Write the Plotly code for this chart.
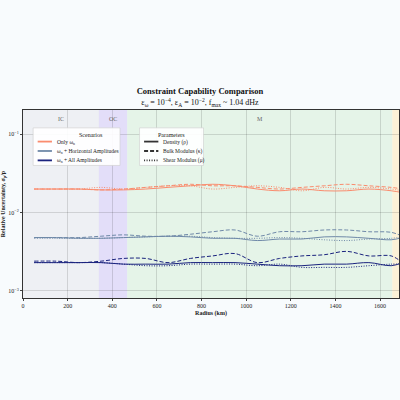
import plotly.graph_objects as go

radius = [50,150,250,350,450,550,650,750,850,950,1050,1150,1250,1350,1450,1550,1650,1700]
only_rho   = [0.020,0.020,0.020,0.0195,0.0195,0.020,0.021,0.022,0.023,0.022,0.020,0.019,0.020,0.019,0.019,0.020,0.019,0.018]
only_kappa = [0.020,0.020,0.020,0.0195,0.020,0.021,0.022,0.023,0.022,0.022,0.021,0.020,0.021,0.022,0.023,0.022,0.021,0.020]
only_mu    = [0.020,0.020,0.020,0.021,0.020,0.021,0.022,0.022,0.020,0.021,0.022,0.021,0.019,0.021,0.020,0.021,0.020,0.019]
hor_rho    = [0.0048,0.0048,0.0047,0.0047,0.0048,0.0049,0.0050,0.0049,0.0047,0.0047,0.0044,0.0046,0.0046,0.0049,0.0049,0.0047,0.0045,0.0048]
hor_kappa  = [0.0048,0.0048,0.0048,0.0050,0.0052,0.0050,0.0050,0.0053,0.0057,0.0060,0.0050,0.0057,0.0057,0.0060,0.0060,0.0057,0.0056,0.0050]
hor_mu     = [0.0047,0.0047,0.0047,0.0047,0.0048,0.0049,0.0050,0.0050,0.0048,0.0047,0.0047,0.0048,0.0047,0.0045,0.0044,0.0046,0.0047,0.0049]
all_rho    = [0.0023,0.0023,0.0023,0.0023,0.0022,0.0022,0.0022,0.0023,0.0023,0.0023,0.0022,0.0021,0.0021,0.0022,0.0022,0.0023,0.0021,0.0023]
all_kappa  = [0.0024,0.0024,0.0023,0.0024,0.0026,0.0026,0.0023,0.0026,0.0028,0.0030,0.0023,0.0026,0.0028,0.0029,0.0032,0.0028,0.0028,0.0023]
all_mu     = [0.0023,0.0023,0.0023,0.0023,0.0022,0.0021,0.0021,0.0022,0.0022,0.0022,0.0021,0.0022,0.0020,0.0020,0.0020,0.0021,0.0022,0.0022]

scenario_names = ["Only ω<sub>n</sub>", "ω<sub>n</sub> + Horizontal Amplitudes", "ω<sub>n</sub> + All Amplitudes"]
param_names = ["Density (ρ)", "Bulk Modulus (κ)", "Shear Modulus (μ)"]

regions = [("IC", 0, 340, "rgba(220,220,225,0.35)"), ("OC", 340, 467, "rgba(190,170,240,0.35)"),
           ("M", 467, 1655, "rgba(200,235,200,0.4)"), ("", 1655, 1685, "rgba(255,235,190,0.6)")]

colors = ["#fa8c6e", "#6f89a8", "#1a237e"]
dashes = ["solid", "4px,2px", "1px,1.5px"]
F = "Liberation Serif"
fig = go.Figure()
for c, series in zip(colors, [(only_rho, only_kappa, only_mu), (hor_rho, hor_kappa, hor_mu), (all_rho, all_kappa, all_mu)]):
    for d, ys in zip(dashes, series):
        fig.add_trace(go.Scatter(x=radius, y=ys, mode="lines", line=dict(color=c, width=1, dash=d, shape="spline"), showlegend=False))

for lab, x0, x1, col in regions:
    fig.add_vrect(x0=x0, x1=x1, fillcolor=col, line_width=0, layer="below")
    if lab:
        fig.add_annotation(x=(x0 + x1) / 2, y=1, yref="paper", yanchor="top", yshift=-4, text=lab, showarrow=False,
                           font=dict(size=6, color="#666", family=F))

def legend_box(x0, x1, title, names, cols, dss):
    y_top, y_bot = 0.905, 0.705
    fig.add_shape(type="rect", xref="paper", yref="paper", x0=x0, x1=x1, y0=y_bot, y1=y_top,
                  fillcolor="rgba(255,255,255,0.92)", line=dict(color="#ccc", width=0.6))
    fig.add_annotation(xref="paper", yref="paper", x=(x0 + x1) / 2, y=0.878, yshift=3, text=title, showarrow=False,
                       font=dict(size=6, family=F, color="#222"))
    for i, (n, c, d) in enumerate(zip(names, cols, dss)):
        yy = 0.832 - i * 0.05
        fig.add_shape(type="line", xref="paper", yref="paper", x0=x0 + 0.012, x1=x0 + 0.05, y0=yy, y1=yy,
                      line=dict(color=c, width=1.8, dash=d))
        fig.add_annotation(xref="paper", yref="paper", x=x0 + 0.058, y=yy, yshift=5, text=n, showarrow=False,
                           xanchor="left", font=dict(size=5.5, family=F, color="#222"))

legend_box(0.027, 0.258, "Scenarios", scenario_names, colors, ["solid"] * 3)
legend_box(0.31, 0.48, "Parameters", param_names, ["#333"] * 3, dashes)

fig.update_layout(
    width=400, height=400, margin=dict(l=23, r=1, t=110, b=102),
    paper_bgcolor="#f8fbfd", plot_bgcolor="#f8fbfd", showlegend=False,
    title=dict(text="<b>Constraint Capability Comparison</b><br><span style='font-size:8px'>ε<sub>ω</sub> = 10<sup>−4</sup>, ε<sub>A</sub> = 10<sup>−2</sup>, f<sub>max</sub> ~ 1.04 dHz</span>",
               x=0.5, xanchor="center", y=0.765, yanchor="bottom", font=dict(size=8.5, family=F, color="#111")),
    font=dict(family=F, color="#222"),
)
fig.update_xaxes(range=[0, 1685], tickvals=[0,200,400,600,800,1000,1200,1400,1600], tickfont=dict(size=6),
                 title=dict(text="<b>Radius (km)</b>", font=dict(size=6), standoff=2), showgrid=True, gridcolor="rgba(0,0,0,0.13)",
                 showline=True, linecolor="#333", mirror=True, ticks="outside", ticklen=2, zeroline=False)
fig.update_yaxes(type="log", range=[-3.09, -0.69], tickvals=[0.001, 0.01, 0.1], ticktext=["10<sup>−3</sup>", "10<sup>−2</sup>", "10<sup>−1</sup>"],
                 tickfont=dict(size=6), title=dict(text="<b>Relative Uncertainty, σ<sub>p</sub>/p</b>", font=dict(size=6), standoff=2),
                 showgrid=True, gridcolor="rgba(0,0,0,0.13)", showline=True, linecolor="#333", mirror=True, ticks="outside", ticklen=2)
fig.write_html("out.html", config={"displayModeBar": False},
               post_script="document.body.style.margin='0';document.body.style.overflow='hidden';")
